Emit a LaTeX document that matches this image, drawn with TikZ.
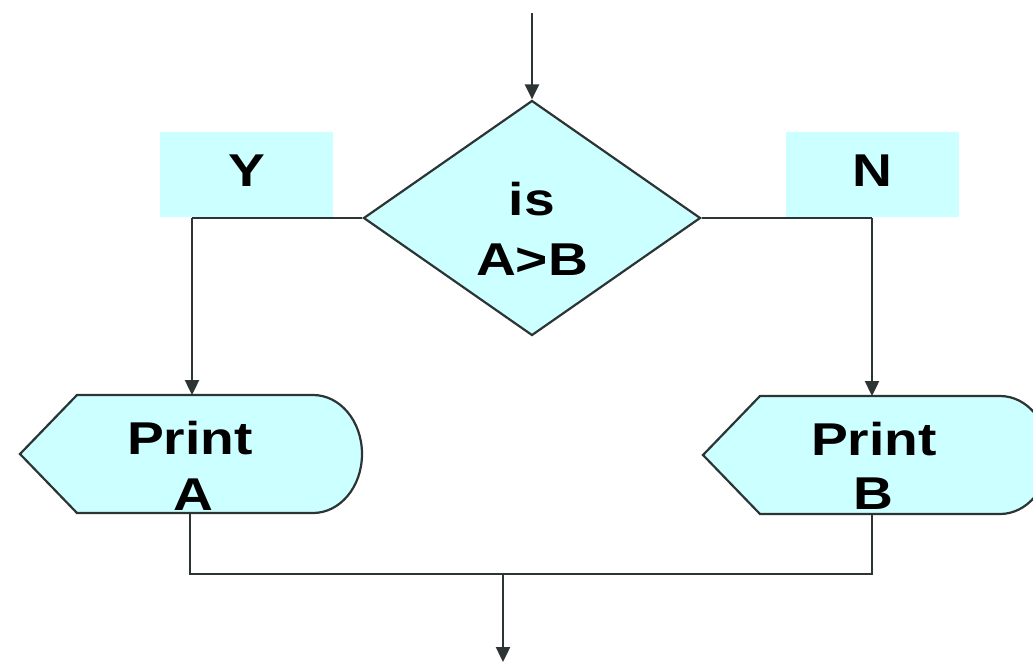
\documentclass[tikz,border=0pt]{standalone}
\usepackage{fontspec}
\setmainfont{Liberation Sans}[FakeStretch=1.2]
\usetikzlibrary{shapes.geometric,arrows.meta}
\definecolor{fillc}{RGB}{204,255,255}
\definecolor{linec}{RGB}{45,52,52}
\tikzset{
  conn/.style={draw=linec, line width=2.4pt},
  arr/.style={conn, -{Triangle[length=15pt,width=14pt]}},
  shapeline/.style={draw=linec, line width=2.2pt, fill=fillc, line join=miter},
  lbl/.style={font=\fontsize{46}{60}\selectfont\bfseries, inner sep=0pt, anchor=base, text=black},
  tagbox/.style={fill=fillc, draw=none, minimum width=173pt, minimum height=85pt, inner sep=0pt,
                 font=\fontsize{46}{60}\selectfont\bfseries, text height=33pt, text depth=10pt}
}
\begin{document}
\begin{tikzpicture}[x=1pt,y=-1pt]
\clip (0,0) rectangle (1033,664);
\fill[white] (0,0) rectangle (1033,664);
% decision
\node[diamond, shapeline, minimum width=337pt, minimum height=235pt, inner sep=0pt] (dia) at (532,218) {};
\node[lbl] (t1) at (532,215) {is};
\node[lbl] (t2) at (532,275) {A>B};
% Y / N tags
\node[tagbox] (ybox) at (246.5,174.5) {Y};
\node[tagbox] (nbox) at (872.5,174.5) {N};
% displays
\draw[shapeline] (77,395) -- (313,395) .. controls (340,395) and (362,421) .. (362,454)
  .. controls (362,487) and (340,513) .. (313,513) -- (77,513) -- (20,454) -- cycle;
\draw[shapeline] (760,396) -- (1000,396) .. controls (1027,396) and (1049,422) .. (1049,455)
  .. controls (1049,488) and (1027,514) .. (1000,514) -- (760,514) -- (703,455) -- cycle;
\node[lbl] (pa1) at (190,454) {Print};
\node[lbl] (pa2) at (193,510) {A};
\node[lbl] (pb1) at (874,455) {Print};
\node[lbl] (pb2) at (873,509) {B};
% named points
\coordinate (start) at (532,13);
\coordinate (yturn) at (192,218);
\coordinate (nturn) at (872,218);
\coordinate (atop) at (192,395);
\coordinate (btop) at (872,396);
\coordinate (abot) at (190,513);
\coordinate (bbot) at (872,514);
\coordinate (jl) at (190,574);
\coordinate (jr) at (872,574);
\coordinate (jm) at (503,574);
\coordinate (finish) at (503,662);
% connectors
\draw[arr] (start) -- (dia.north);
\draw[conn] (dia.west) -- (yturn);
\draw[arr] (yturn) -- (atop);
\draw[conn] (dia.east) -- (nturn);
\draw[arr] (nturn) -- (btop);
\draw[conn] (abot) -- (jl) -- (jr) -- (bbot);
\draw[arr] (jm) -- (finish);
\end{tikzpicture}
\end{document}
